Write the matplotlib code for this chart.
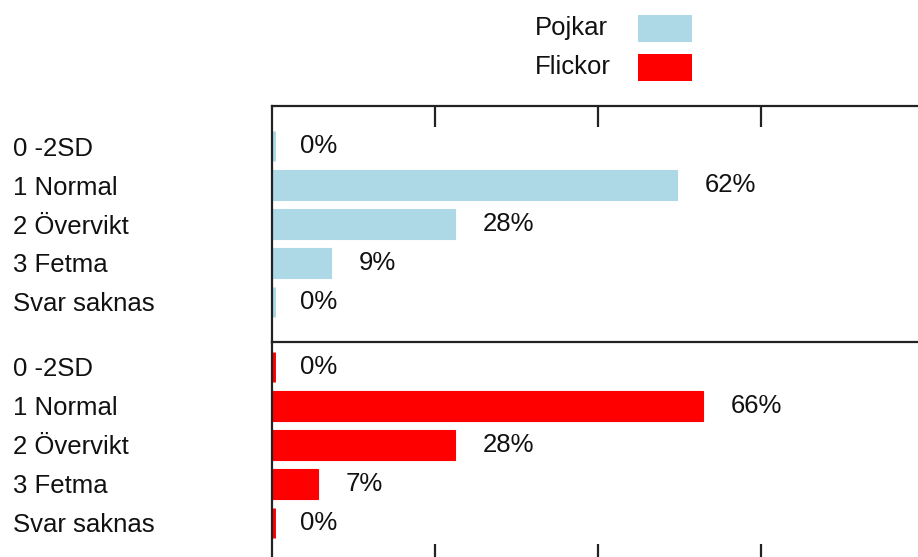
import matplotlib.pyplot as plt
from matplotlib.patches import Rectangle

plt.rcParams['font.family'] = ['Liberation Sans', 'DejaVu Sans']

categories = ['0 -2SD', '1 Normal', '2 Övervikt', '3 Fetma', 'Svar saknas']
pojkar = [0, 62, 28, 9, 0]
flickor = [0, 66, 28, 7, 0]
groups = ['Pojkar', 'Flickor']
colors = ['#add8e6', '#ff0000']

W, H = 918, 557
fig = plt.figure(figsize=(W / 100, H / 100), dpi=100)

def fx(px):
    return px / W

def fy(py):
    return 1 - py / H

left = fx(272)
xmax = 99
fs = 18.5
txt = '#111111'

# upper panel (boys), lower panel (girls, runs past the bottom edge)
ax1 = fig.add_axes([left, fy(342), 1 - left, fy(106) - fy(342)])
ax2 = fig.add_axes([left, fy(565), 1 - left, fy(342) - fy(565)])
ax2.patch.set_alpha(0)

panels = [(ax1, pojkar, colors[0], (5.03, -1.03)),
          (ax2, flickor, colors[1], (5.08, -0.64))]

for ax, vals, col, ylim in panels:
    y = list(range(len(categories)))
    bars = ax.barh(y, vals, height=0.76, color=col, edgecolor=col,
                   linewidth=0.8)
    for b, v in zip(bars, vals):
        if v == 0:
            # empty categories still get a thin sliver next to the axis
            b.set_linewidth(5)
    for yi, v in zip(y, vals):
        ax.text(v + 4.3, yi, f'{v}%', va='center', ha='left', fontsize=fs,
                color=txt)
    ax.set_xlim(0, xmax)
    ax.set_ylim(*ylim)
    ax.set_yticks(y)
    ax.set_yticklabels(categories, fontsize=fs, ha='left', color=txt)
    ax.tick_params(axis='y', length=0, pad=(272 - 13) * 0.72)
    ax.spines['right'].set_visible(False)
    for s in ax.spines.values():
        s.set_linewidth(1.6)
        s.set_color('#222222')

ax2.spines['top'].set_visible(False)

ax1.set_xticks([25, 50, 75])
ax1.xaxis.set_ticks_position('top')
ax1.tick_params(axis='x', direction='in', length=15, width=1.6,
                labeltop=False, labelbottom=False, color='#222222')
ax2.set_xticks([25, 50, 75])
ax2.xaxis.set_ticks_position('bottom')
ax2.tick_params(axis='x', direction='in', length=15, width=1.6,
                labeltop=False, labelbottom=False, color='#222222')

# legend drawn by hand at the top
for i, (g, c) in enumerate(zip(groups, colors)):
    top = 15 + i * 39
    fig.text(fx(535), fy(top + 13), g, fontsize=fs, va='center',
             ha='left', color=txt)
    fig.patches.append(Rectangle((fx(638), fy(top + 27)), fx(54), 27 / H,
                                 transform=fig.transFigure, facecolor=c,
                                 edgecolor='none'))

fig.savefig('out.png', dpi=100)
